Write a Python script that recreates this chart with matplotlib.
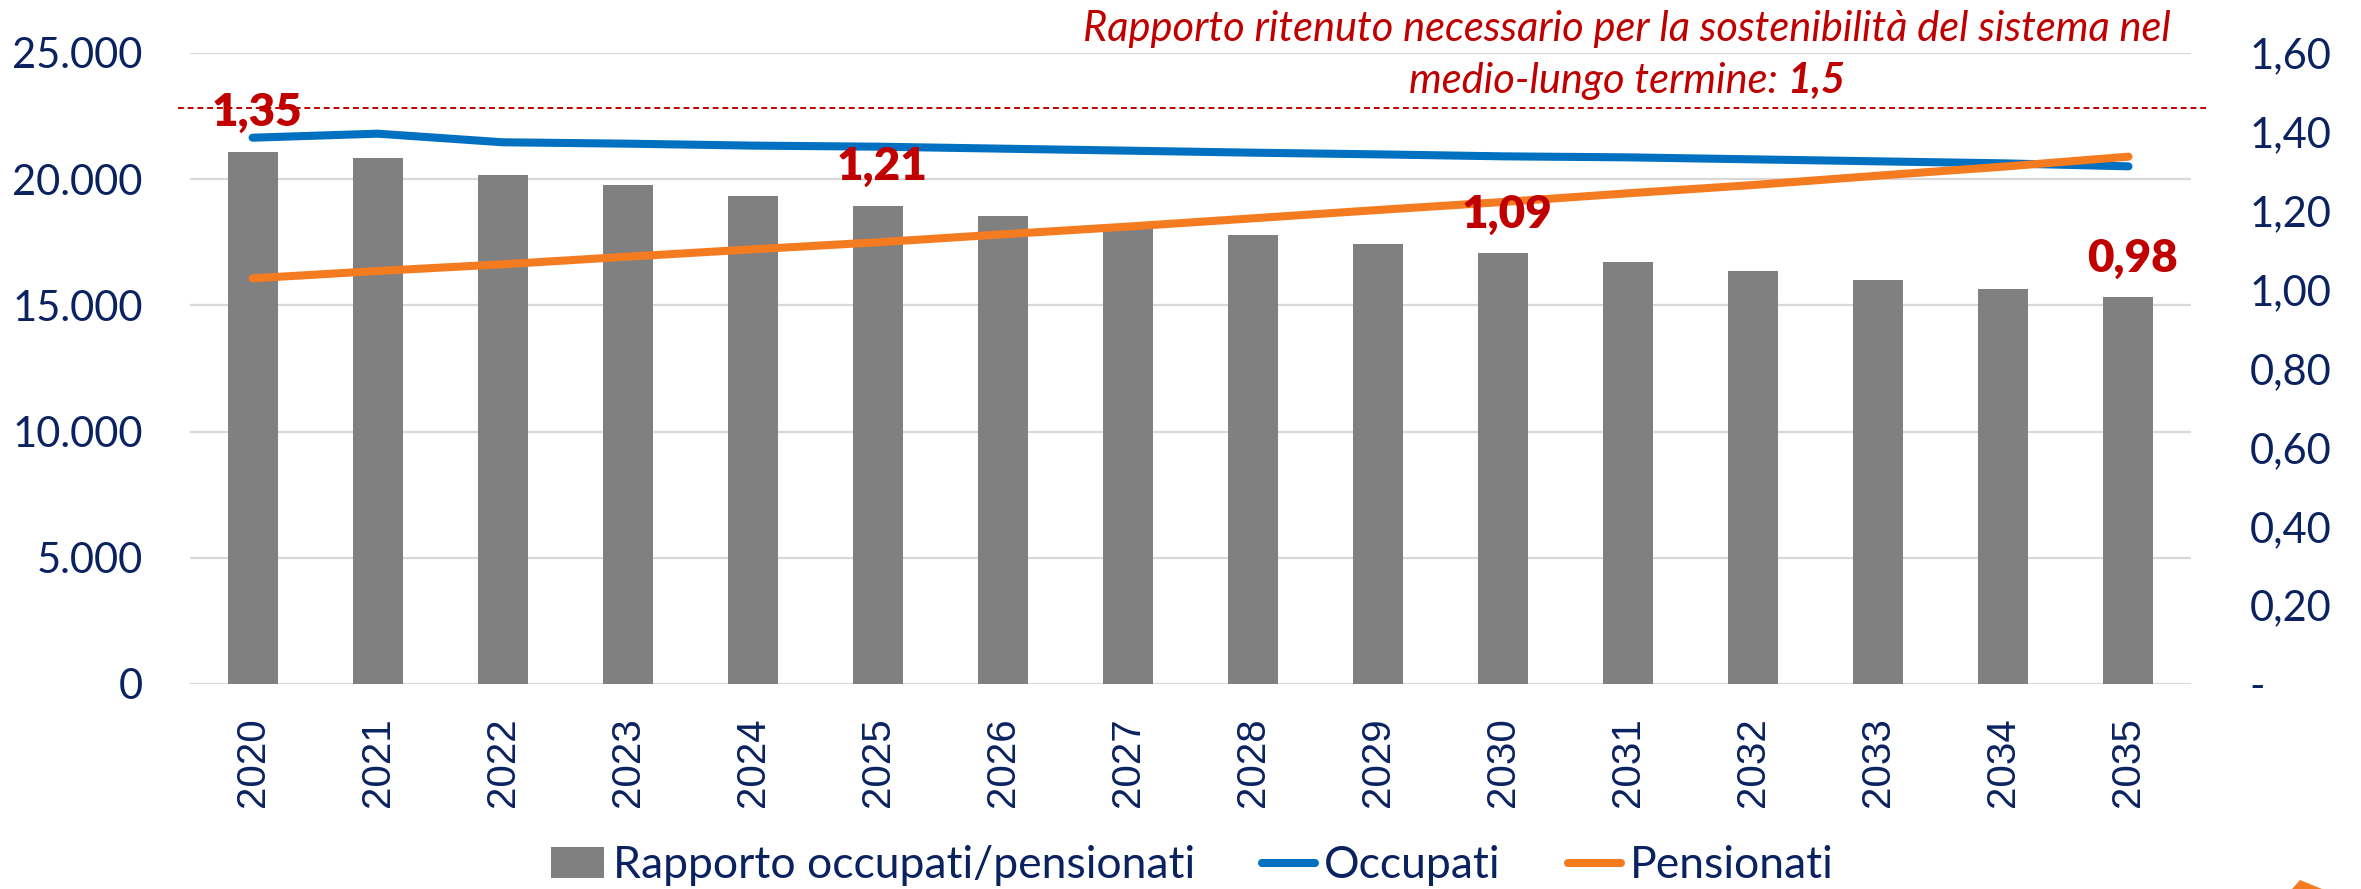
import matplotlib
matplotlib.use("Agg")
import matplotlib.pyplot as plt
from matplotlib.patches import Patch, Polygon
from matplotlib.lines import Line2D

# ---- data ----
years = [str(y) for y in range(2020, 2036)]
rapporto = [1.35, 1.334, 1.291, 1.264, 1.237, 1.213, 1.187, 1.156, 1.139, 1.115,
            1.092, 1.069, 1.046, 1.024, 1.002, 0.981]
occupati = [21644, 21803, 21462, 21407, 21330, 21288, 21209, 21130, 21050, 20984,
            20905, 20865, 20786, 20707, 20628, 20509]
pensionati = [16073, 16363, 16628, 16930, 17222, 17500, 17816, 18122, 18450, 18780,
              19097, 19441, 19770, 20140, 20497, 20892]
label_idx = [0, 5, 10, 15]
label_txt = ["1,35", "1,21", "1,09", "0,98"]
soglia = 1.46  # drawn position of the reference line (stated 1,5)
left_ticks = [0, 5000, 10000, 15000, 20000, 25000]
left_labels = ["0", "5.000", "10.000", "15.000", "20.000", "25.000"]
right_ticks = [0, 0.2, 0.4, 0.6, 0.8, 1.0, 1.2, 1.4, 1.6]
right_labels = ["-", "0,20", "0,40", "0,60", "0,80", "1,00", "1,20", "1,40", "1,60"]

NAVY = "#0B2261"
RED = "#C00000"
BLUE = "#0070C0"
ORANGE = "#F47B20"
GRAY = "#808080"
GRID = "#D9D9D9"
FONT = ["Lato", "DejaVu Sans"]

plt.rcParams['font.family'] = FONT

fig = plt.figure(figsize=(23.61, 8.89), dpi=100)
ax = fig.add_axes([0.0805, 0.2306, 0.8475, 0.7098])
ax2 = ax.twinx()

x = list(range(len(years)))

# left axis (thousands) with grid
ax.set_xlim(-0.5, len(years) - 0.5)
ax.set_ylim(0, 25000)
ax.set_yticks(left_ticks)
ax.set_yticklabels(left_labels)
ax.yaxis.grid(True, color=GRID, linewidth=1.6)
ax.set_axisbelow(True)
ax.tick_params(axis='y', length=0, pad=34, labelsize=30, labelcolor=NAVY)
ax.set_xticks(x)
ax.set_xticklabels(years, rotation=90, fontfamily=["Liberation Sans", "DejaVu Sans"])
ax.tick_params(axis='x', length=0, pad=24, labelsize=29, labelcolor=NAVY)
for s in ax.spines.values():
    s.set_visible(False)

# right axis (ratio) with bars
ax2.set_ylim(0, 1.6)
ax2.set_yticks(right_ticks)
ax2.set_yticklabels(right_labels)
ax2.tick_params(axis='y', length=0, pad=42, labelsize=30, labelcolor=NAVY)
for s in ax2.spines.values():
    s.set_visible(False)
ax2.bar(x, rapporto, width=0.4, color=GRAY, zorder=2)

# lines (left-axis values, drawn above bars)
ax2.plot(x, occupati, color=BLUE, lw=5.8, solid_capstyle='round',
         transform=ax.transData, zorder=3)
ax2.plot(x, pensionati, color=ORANGE, lw=5.8, solid_capstyle='round',
         transform=ax.transData, zorder=3)

# reference dashed line
ax2.plot([-0.6, len(years) - 0.36], [soglia, soglia], color=RED, lw=1.4,
         ls=(0, (3, 2)), clip_on=False, zorder=1)

# data labels
for i, t in zip(label_idx, label_txt):
    ax2.annotate(t, (x[i], rapporto[i]), xytext=(3, 28), textcoords='offset points',
                 ha='center', va='center', fontsize=33, fontweight='heavy', color=RED)

# annotation text
cx = 1627 / 2361
fig.text(cx, 1 - 41 / 889, "Rapporto ritenuto necessario per la sostenibilità del sistema nel",
         ha='center', va='baseline', fontsize=30, style='italic', color=RED)
t1 = fig.text(0, 1 - 93 / 889, "medio-lungo termine: ", ha='left', va='baseline',
              fontsize=30, style='italic', color=RED)
t2 = fig.text(0, 1 - 93 / 889, "1,5", ha='left', va='baseline',
              fontsize=30, style='italic', fontweight='bold', color=RED)
r = fig.canvas.get_renderer()
w1 = t1.get_window_extent(r).width / fig.bbox.width
w2 = t2.get_window_extent(r).width / fig.bbox.width
start = cx - (w1 + w2) / 2
t1.set_x(start)
t2.set_x(start + w1)

# legend
handles = [Patch(facecolor=GRAY, edgecolor='none'),
           Line2D([], [], color=BLUE, lw=5.8, solid_capstyle='round'),
           Line2D([], [], color=ORANGE, lw=5.8, solid_capstyle='round')]
labels = ["Rapporto occupati/pensionati", "Occupati", "Pensionati"]
leg = fig.legend(handles, labels, loc='center', bbox_to_anchor=(0.505, 0.026),
                 ncol=3, frameon=False, fontsize=32, handlelength=1.2,
                 handletextpad=0.2, columnspacing=1.5, borderpad=0)
for t in leg.get_texts():
    t.set_color(NAVY)

# small corner decoration
fig.patches.append(Polygon([(2292 / 2361, 0), (2300 / 2361, 9 / 889), (2322 / 2361, 0)],
                           closed=True, transform=fig.transFigure, facecolor=ORANGE,
                           edgecolor='none'))

fig.savefig("out.png", dpi=100)
